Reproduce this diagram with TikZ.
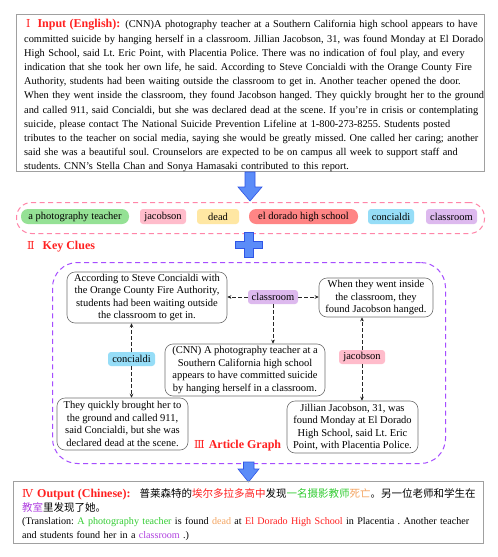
\documentclass[tikz,border=0pt]{standalone}
\usepackage{fontspec}
\setmainfont{Liberation Serif}
\newfontfamily\cjk{Noto Sans CJK SC}
\newfontfamily\romfont{DejaVu Serif}
\usetikzlibrary{arrows.meta}
\frenchspacing
\definecolor{boxgray}{HTML}{A0A0A0}
\definecolor{nodegray}{HTML}{707070}
\definecolor{arrfill}{HTML}{5B8CF8}
\definecolor{arrdraw}{HTML}{2F55E6}
\definecolor{cgreen}{HTML}{95E195}
\definecolor{cpink}{HTML}{FFBCCB}
\definecolor{cyellow}{HTML}{FFE7A3}
\definecolor{cred}{HTML}{FF8585}
\definecolor{cblue}{HTML}{96DDF7}
\definecolor{cpurple}{HTML}{DDB9EE}
\definecolor{pinkdash}{HTML}{FF85A8}
\definecolor{violetdash}{HTML}{A64DFF}
\definecolor{tred}{HTML}{FF2020}
\definecolor{tgreen}{HTML}{33CC33}
\definecolor{torange}{HTML}{F4A460}
\definecolor{tpurple}{HTML}{B040E0}
\newcommand{\rnum}[1]{{\romfont\mdseries\fontsize{11}{12}\selectfont #1}}
\tikzset{
  chip/.style={fill=#1, rounded corners=3pt, inner sep=0pt, minimum height=15pt, font=\fontsize{10.5}{12}\selectfont},
  pill/.style={fill=#1, rounded corners=7pt, inner sep=0pt, minimum height=15pt, font=\fontsize{10.5}{12}\selectfont},
  sent/.style={draw=nodegray, line width=0.6pt, rounded corners=8pt, align=center, inner sep=0pt, font=\fontsize{10.5}{12.5}\selectfont},
  link/.style={dashed, dash pattern=on 3.5pt off 2.5pt, line width=0.8pt, draw=black!85, -{Stealth[length=4pt,width=3.6pt]}},
  bigarrow/.style={fill=arrfill, draw=arrdraw, line width=0.6pt},
  redlbl/.style={text=tred, font=\fontsize{12}{13}\selectfont\bfseries, inner sep=0pt}
}
\begin{document}
\begin{tikzpicture}[x=1pt,y=-1pt]
\useasboundingbox (0,0) rectangle (498,557);
\fill[white] (0,0) rectangle (498,557);

% ---------- Input box ----------
\node[draw=boxgray, line width=1.1pt, minimum width=468pt, minimum height=157pt, anchor=north west, inner sep=0pt] (inbox) at (16,14) {};
\node[anchor=base west, inner sep=0pt, text width=520pt, align=left, font=\fontsize{10.35}{14.2}\selectfont] (intext) at (24,27.8)
{\hspace*{2pt}{\color{tred}\rnum{Ⅰ}}\hspace{7pt}{\color{tred}\fontsize{12}{13}\selectfont\bfseries Input (English):}\hspace{5pt}(CNN)A photography teacher at a Southern California high school appears to have\\
committed suicide by hanging herself in a classroom. Jillian Jacobson, 31, was found Monday at El Dorado\\
High School, said Lt. Eric Point, with Placentia Police. There was no indication of foul play, and every\\
indication that she took her own life, he said. According to Steve Concialdi with the Orange County Fire\\
Authority, students had been waiting outside the classroom to get in. Another teacher opened the door.\\
When they went inside the classroom, they found Jacobson hanged. They quickly brought her to the ground\\
and called 911, said Concialdi, but she was declared dead at the scene. If you're in crisis or contemplating\\
suicide, please contact The National Suicide Prevention Lifeline at 1-800-273-8255. Students posted\\
tributes to the teacher on social media, saying she would be greatly missed. One called her caring; another\\
said she was a beautiful soul. Crounselors are expected to be on campus all week to support staff and\\
students. CNN's Stella Chan and Sonya Hamasaki contributed to this report.};

% ---------- big arrow 1 ----------
\draw[bigarrow] (245,172) -- (255,172) -- (255,187) -- (262,187) -- (250,201) -- (238,187) -- (245,187) -- cycle;

% ---------- Key clues ----------
\node[draw=pinkdash, dashed, dash pattern=on 5pt off 3.5pt, line width=1pt, rounded corners=15pt, minimum width=468pt, minimum height=31pt, anchor=north west, inner sep=0pt] (kcbox) at (16,202) {};
\node[pill=cgreen, minimum width=108pt] (k1) at (75,216.5) {a photography teacher};
\node[chip=cpink, minimum width=46pt] (k2) at (163,216.5) {jacobson};
\node[chip=cyellow, minimum width=42pt] (k3) at (218,216.5) {dead};
\node[pill=cred, minimum width=109pt] (k4) at (303.5,216.5) {el dorado high school};
\node[chip=cblue, minimum width=46pt] (k5) at (391,216.5) {concialdi};
\node[chip=cpurple, minimum width=51pt] (k6) at (451.5,216.5) {classroom};
\node[redlbl, anchor=west] (kclbl) at (27,246.5) {\rnum{Ⅱ}\hspace{8pt}Key Clues};

% ---------- plus ----------
\draw[bigarrow] (244.5,232) -- (253,232) -- (253,241) -- (262,241) -- (262,248.5) -- (253,248.5) -- (253,257) -- (244.5,257) -- (244.5,248.5) -- (235,248.5) -- (235,241) -- (244.5,241) -- cycle;

% ---------- Article graph ----------
\node[draw=violetdash, dashed, dash pattern=on 5pt off 3.5pt, line width=1pt, rounded corners=25pt, minimum width=393pt, minimum height=201pt, anchor=north west, inner sep=0pt] (agbox) at (52,262) {};

\node[sent, minimum width=160pt, minimum height=51pt] (A) at (147,297.5) {According to Steve Concialdi with\\the Orange County Fire Authority,\\students had been waiting outside\\the classroom to get in.};
\node[sent, minimum width=114pt, minimum height=39pt] (W) at (376,297.5) {When they went inside\\the classroom, they\\found Jacobson hanged.};
\node[sent, minimum width=160pt, minimum height=52pt] (C) at (245,370) {(CNN) A photography teacher at a\\Southern California high school\\appears to have committed suicide\\by hanging herself in a classroom.};
\node[sent, minimum width=131pt, minimum height=52pt] (T) at (122.5,424) {They quickly brought her to\\the ground and called 911,\\said Concialdi, but she was\\declared dead at the scene.};
\node[sent, minimum width=131pt, minimum height=52pt] (J) at (352.5,427) {Jillian Jacobson, 31, was\\found Monday at El Dorado\\High School, said Lt. Eric\\Point, with Placentia Police.};

\node[chip=cpurple, minimum width=50pt, minimum height=14pt] (cl) at (273,297) {classroom};
\node[chip=cblue, minimum width=47pt, minimum height=14pt] (co) at (131.5,359) {concialdi};
\node[chip=cpink, minimum width=46pt, minimum height=14pt] (ja) at (362,357) {jacobson};

\draw[link] (cl.west) -- (A.east |- cl.west);
\draw[link] (cl.east) -- (W.west |- cl.east);
\draw[link] (cl.south) -- (cl.south |- C.north);
\draw[link] (co.north) -- (co.north |- A.south);
\draw[link] (co.south) -- (co.south |- T.north);
\draw[link] (ja.north) -- (ja.north |- W.south);
\draw[link] (ja.south) -- (ja.south |- J.north);

\node[redlbl, anchor=west] (aglbl) at (194,446) {\rnum{Ⅲ}\hspace{4pt}Article Graph};

% ---------- big arrow 2 ----------
\draw[bigarrow] (243.5,462) -- (254,462) -- (254,469) -- (259,469) -- (248.5,482) -- (238,469) -- (243.5,469) -- cycle;

% ---------- Output ----------
\node[draw=boxgray, line width=1.1pt, minimum width=470pt, minimum height=62pt, anchor=north west, inner sep=0pt] (outbox) at (13,481) {};
\node[anchor=base west, inner sep=0pt, text width=520pt, align=left, font=\fontsize{10.1}{13.6}\selectfont] (outtext) at (22,497.4)
{{\color{tred}\rnum{Ⅳ}}\hspace{4pt}{\color{tred}\fontsize{12}{13}\selectfont\bfseries Output (Chinese):}\hspace{9pt}{\cjk\fontsize{10.5}{13.6}\selectfont 普莱森特的{\color{tred}埃尔多拉多高中}发现{\color{tgreen}一名摄影教师}{\color{torange}死亡}。另一位老师和学生在}\\
{\cjk\fontsize{10.5}{13.6}\selectfont{\color{tpurple}教室}里发现了她。}\\
(Translation: {\color{tgreen}A photography teacher} is found {\color{torange}dead} at {\color{tred}El Dorado High School} in Placentia . Another teacher\\
and students found her in a {\color{tpurple}classroom} .)};
\end{tikzpicture}
\end{document}
